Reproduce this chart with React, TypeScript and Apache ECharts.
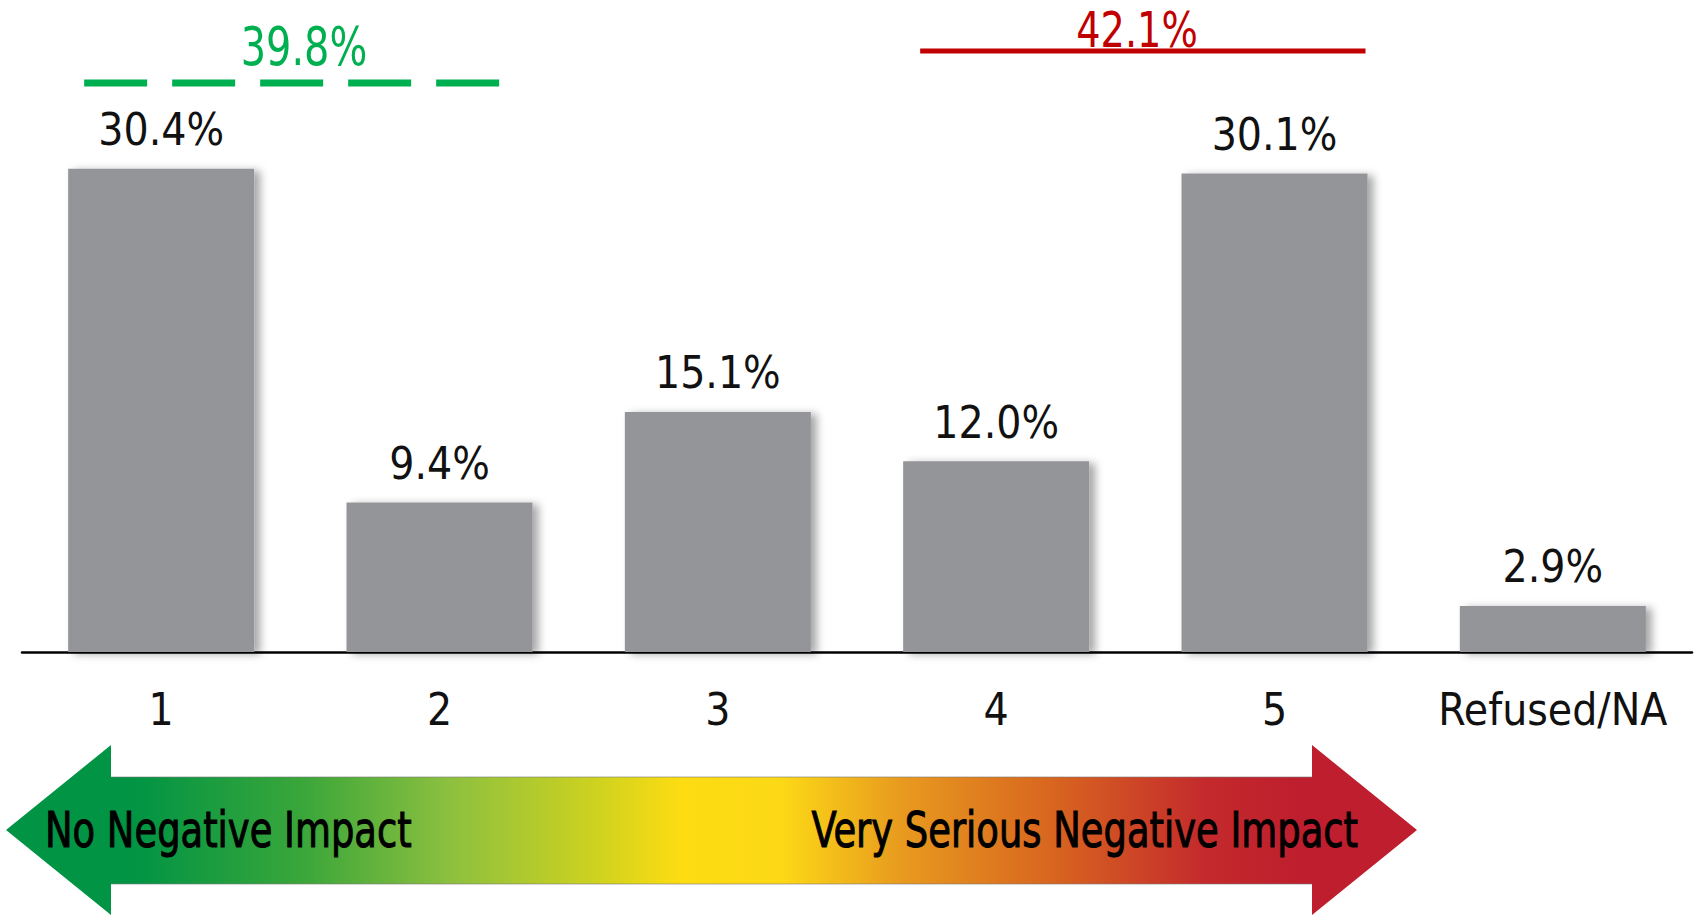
import React, { useEffect, useRef } from "react";
import * as echarts from "echarts";

const categories = ["1", "2", "3", "4", "5", "Refused/NA"];
const values = [30.4, 9.4, 15.1, 12.0, 30.1, 2.9];
const groupLabels = ["39.8%", "42.1%"];
const groupFirst = [0, 3];
const groupLast = [1, 4];
const arrowLabels = ["No Negative Impact", "Very Serious Negative Impact"];

const FONT = "'Liberation Sans Narrow', 'DejaVu Sans Condensed', sans-serif";

export default function App() {
  const ref = useRef<HTMLDivElement>(null);
  useEffect(() => {
    const chart = echarts.init(ref.current!, null, { renderer: "svg" });
    chart.setOption({
      animation: false,
      grid: { left: 22, right: 4, top: 16, bottom: 263, containLabel: false },
      xAxis: {
        type: "category",
        data: categories,
        axisLine: { lineStyle: { color: "#000", width: 2.5 } },
        axisTick: { show: false },
        axisLabel: { interval: 0, fontFamily: FONT, fontSize: 44, color: "#111", margin: 35 },
      },
      yAxis: { type: "value", min: 0, max: 40, show: false, splitLine: { show: false } },
      series: [
        {
          type: "bar",
          data: values,
          barWidth: 186,
          itemStyle: {
            color: "#939598",
            shadowBlur: 8,
            shadowOffsetX: 6,
            shadowOffsetY: 2,
            shadowColor: "rgba(0,0,0,0.35)",
          },
          label: {
            show: true,
            position: "top",
            distance: 17,
            formatter: (p: any) => Number(p.value).toFixed(1) + "%",
            fontFamily: FONT,
            fontSize: 44,
            color: "#111",
          },
        },
      ],
    });

    const cx = (i: number) => chart.convertToPixel({ xAxisIndex: 0 }, i) as number;
    const gStart = cx(groupFirst[0]) - 77;
    const gEnd = cx(groupLast[0]) + 61;
    const rStart = cx(groupFirst[1]) - 76;
    const rEnd = cx(groupLast[1]) + 91;

    const arrowPts = [
      [6, 830], [111, 745], [111, 777], [1312, 777], [1312, 745], [1417, 830],
      [1312, 915], [1312, 884], [111, 884], [111, 915],
    ];
    const SX = 0.82;

    chart.setOption({
      graphic: [
        {
          type: "line",
          shape: { x1: gStart, y1: 83, x2: gEnd, y2: 83 },
          style: { stroke: "#00b050", lineWidth: 7, lineDash: [63, 25] },
        },
        {
          type: "text",
          x: 304,
          y: 46,
          scaleX: SX,
          style: { text: groupLabels[0], fontFamily: FONT, fontSize: 54, fill: "#00b050", align: "center", verticalAlign: "middle" },
        },
        {
          type: "line",
          shape: { x1: rStart, y1: 51, x2: rEnd, y2: 51 },
          style: { stroke: "#c00000", lineWidth: 5 },
        },
        {
          type: "text",
          x: 1137,
          y: 30,
          scaleX: 0.85,
          style: { text: groupLabels[1], fontFamily: FONT, fontSize: 50, fill: "#c00000", align: "center", verticalAlign: "middle" },
        },
        {
          type: "polygon",
          shape: { points: arrowPts },
          style: {
            fill: new echarts.graphic.LinearGradient(0, 0, 1, 0, [
              { offset: 0, color: "#009444" },
              { offset: 0.09, color: "#009444" },
              { offset: 0.21, color: "#3aa63a" },
              { offset: 0.315, color: "#8dc03f" },
              { offset: 0.42, color: "#cfd21f" },
              { offset: 0.478, color: "#fddc12" },
              { offset: 0.55, color: "#fcd816" },
              { offset: 0.635, color: "#e89a1f" },
              { offset: 0.74, color: "#d8661f" },
              { offset: 0.85, color: "#c42a2c" },
              { offset: 0.92, color: "#be1e2d" },
              { offset: 1, color: "#be1e2d" },
            ]),
          },
        },
        { type: "line", shape: { x1: 111, y1: 777, x2: 1312, y2: 777 }, style: { stroke: "rgba(120,120,120,0.6)", lineWidth: 1.2 } },
        { type: "line", shape: { x1: 111, y1: 884, x2: 1312, y2: 884 }, style: { stroke: "rgba(120,120,120,0.6)", lineWidth: 1.2 } },
        {
          type: "text",
          x: 45,
          y: 830,
          scaleX: SX,
          style: { text: arrowLabels[0], fontFamily: FONT, fontSize: 50, fill: "#000", stroke: "#000", lineWidth: 1, align: "left", verticalAlign: "middle" },
        },
        {
          type: "text",
          x: 1358,
          y: 830,
          scaleX: SX,
          style: { text: arrowLabels[1], fontFamily: FONT, fontSize: 50, fill: "#000", stroke: "#000", lineWidth: 1, align: "right", verticalAlign: "middle" },
        },
      ],
    });

    return () => chart.dispose();
  }, []);

  return (
    <div
      ref={ref}
      style={{ position: "fixed", left: 0, top: 0, width: 1696, height: 915, background: "#fff" }}
    />
  );
}
